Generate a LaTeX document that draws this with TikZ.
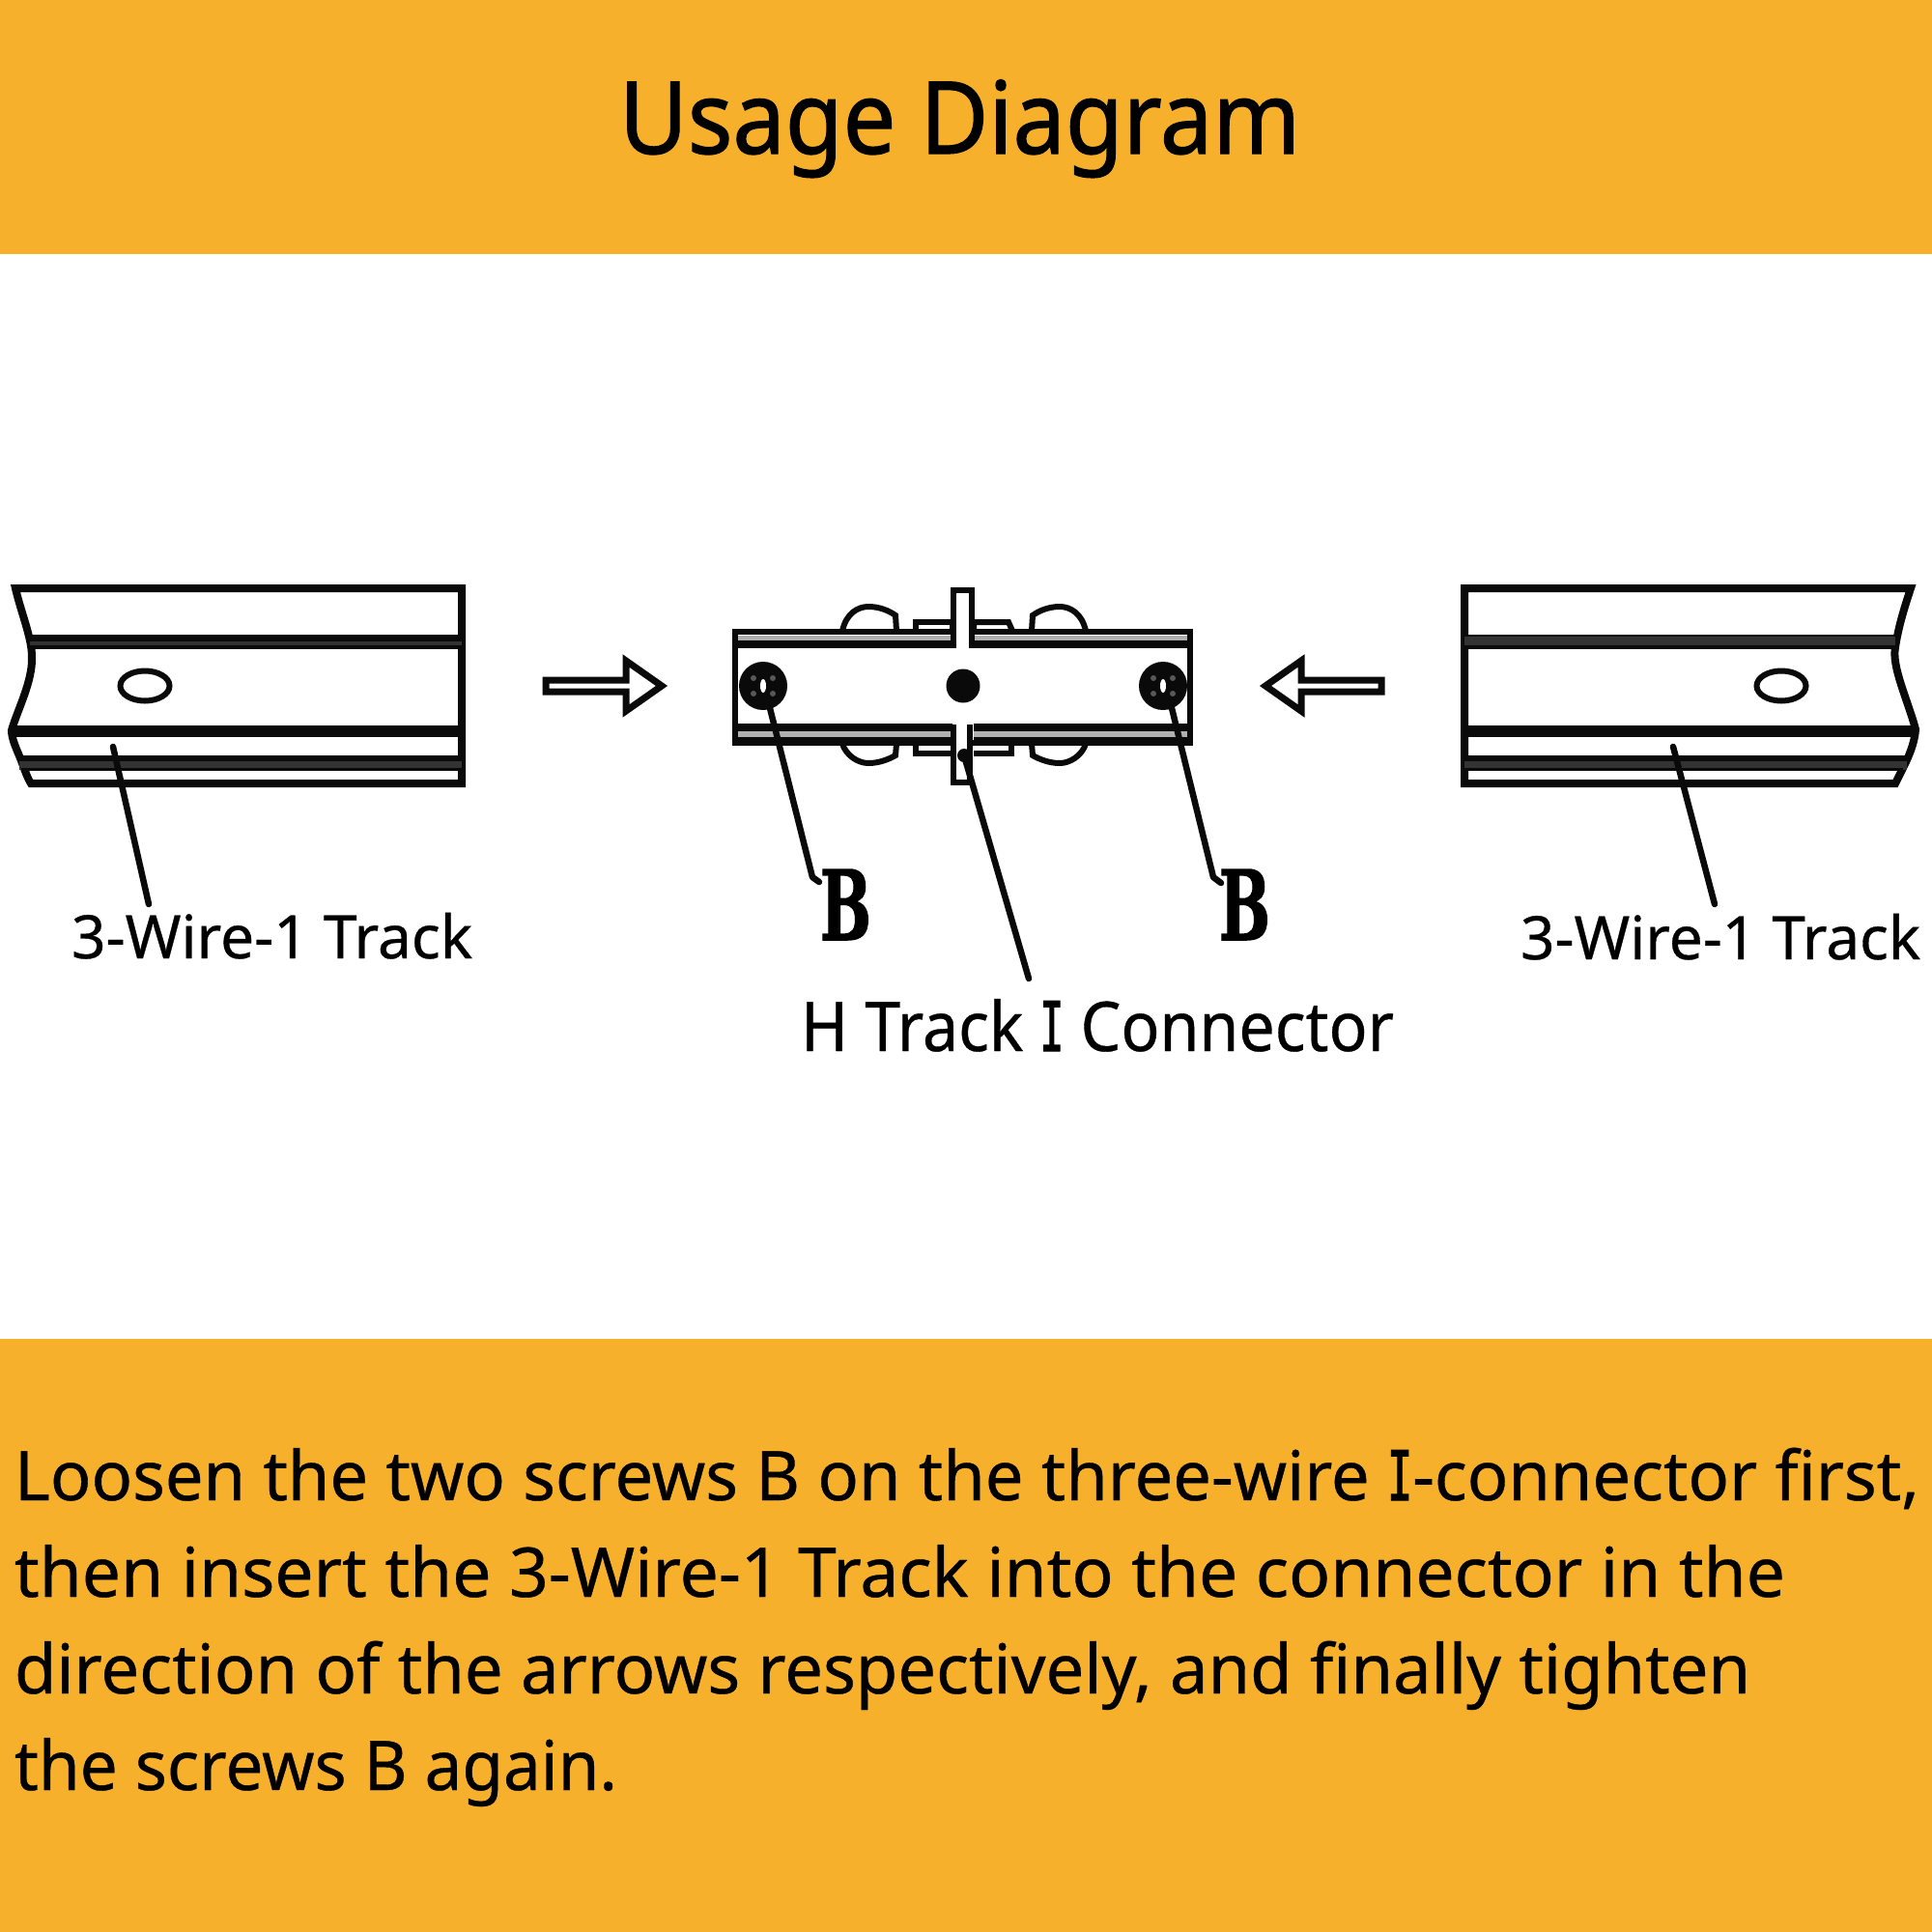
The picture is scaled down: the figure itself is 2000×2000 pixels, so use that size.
\documentclass[tikz,border=0pt]{standalone}
\usepackage{fontspec}
\usepackage{graphicx}
\usetikzlibrary{shapes.geometric}
\setmainfont[FakeBold=0.5]{Noto Sans}
\newfontfamily\titleface[FakeBold=1.2]{Noto Sans}
\newfontfamily\serifface[FakeBold=2]{DejaVu Sans Mono}
\newfontfamily\slabface[BoldFeatures={FakeBold=1.5}]{DejaVu Serif}
\newcommand{\fitw}[2]{\resizebox{#1pt}{\height}{#2}}
\newcommand{\serifI}{\scalebox{0.62}[1]{\serifface I}}
\definecolor{band}{HTML}{F7B02B}
\definecolor{ink}{HTML}{0A0A0A}
\definecolor{midgrey}{HTML}{333333}
\definecolor{lightgrey}{HTML}{B0B0B0}
\tikzset{
  txt/.style={anchor=base west,inner sep=0pt,outer sep=0pt,text=black},
  titletxt/.style={txt,font=\titleface\fontsize{104}{104}\selectfont},
  bodytxt/.style={txt,font=\fontsize{71}{71}\selectfont},
  lbl/.style={txt,font=\fontsize{62}{62}\selectfont},
  lblbig/.style={txt,font=\fontsize{71}{71}\selectfont},
  bee/.style={txt,font=\slabface\bfseries\fontsize{100}{100}\selectfont},
  edge/.style={draw=ink,line width=8pt,line join=miter},
  part/.style={draw=ink,line width=6pt,line join=miter},
  leader/.style={draw=ink,line width=6.5pt,line cap=round,line join=round},
  arrowshape/.style={draw=ink,line width=7pt,fill=white,line join=miter},
  hole/.style={draw=ink,line width=6pt,ellipse,minimum width=51pt,minimum height=31pt,inner sep=0pt},
  screw/.style={circle,fill=ink,minimum size=50pt,inner sep=0pt},
}
\begin{document}
\begin{tikzpicture}[x=1pt,y=-1pt]
\useasboundingbox (0,0) rectangle (2000,2000);
\fill[white] (0,0) rectangle (2000,2000);
\fill[band] (0,0) rectangle (2000,263);
\fill[band] (0,1386) rectangle (2000,2000);

\node[titletxt] (title) at (641,159) {\fitw{705}{Usage Diagram}};

% left track
\path[edge] (16,609) -- (478,609) -- (478,811) -- (32,811)
  .. controls (28,805) and (25,795) .. (21,785)
  .. controls (17,775) and (12,765) .. (12,756)
  .. controls (18,735) and (34,705) .. (33,680)
  .. controls (33,660) and (22,635) .. (16,609) -- cycle;
\fill[midgrey] (31,659) rectangle (478,671);
\fill[ink] (31,657) rectangle (478,664);
\fill[ink] (31,668) rectangle (478,672);
\fill[ink] (9,751) rectangle (482,763);
\fill[midgrey] (20,785) rectangle (478,797);
\fill[ink] (20,782) rectangle (478,788);
\fill[ink] (22,795) rectangle (478,798);
\node[hole] (holeL) at (150,710) {};
\coordinate (trackL) at (117,773);
\node[lbl] (labelL) at (74,992) {\fitw{415}{3-Wire-1 Track}};
\coordinate (labelLtip) at (154,936);
\draw[leader] (trackL) -- (labelLtip);

% arrow right
\path[arrowshape] (565,704) -- (648,704) -- (648,684) -- (685,710) -- (648,736) -- (648,716) -- (565,716) -- cycle;

% connector bumps
\path[part,fill=white] (872,653) .. controls (876,635) and (888,628) .. (899,628) .. controls (910,628) and (920,632) .. (927,637) -- (928,653);
\path[part,fill=white] (1124,653) .. controls (1120,635) and (1108,628) .. (1097,628) .. controls (1086,628) and (1076,632) .. (1069,637) -- (1068,653);
\path[part,fill=white] (872,770) .. controls (876,782) and (888,790) .. (899,790) .. controls (910,790) and (920,786) .. (927,782) -- (928,770);
\path[part,fill=white] (1124,770) .. controls (1120,782) and (1108,790) .. (1097,790) .. controls (1086,790) and (1076,786) .. (1069,782) -- (1068,770);
\path[part,fill=white] (948,653) -- (948,644) -- (986,644) -- (986,653);
\path[part,fill=white] (1008,653) -- (1008,644) -- (1044,644) -- (1048,653);
\path[part,fill=white] (948,770) -- (948,780) -- (986,780);
\path[part,fill=white] (1008,780) -- (1047,780) -- (1047,770);

% connector body
\path[part,fill=white] (761,654) rectangle (1232,769);
\fill[lightgrey] (764,658) rectangle (986,663);
\fill[lightgrey] (1008,658) rectangle (1229,663);
\fill[ink] (761,663) rectangle (986,671);
\fill[ink] (1008,663) rectangle (1232,671);
\fill[ink] (761,749) rectangle (986,757);
\fill[ink] (1008,749) rectangle (1232,757);
\fill[lightgrey] (764,757) rectangle (986,763);
\fill[lightgrey] (1008,757) rectangle (1229,763);
\fill[ink] (761,763) rectangle (986,771);
\fill[ink] (1008,763) rectangle (1232,771);
% centre tab
\fill[white] (990,648) rectangle (1004,672);
\fill[white] (990,745) rectangle (1003,775);
\path[part] (987,671) -- (987,611) -- (1006,611) -- (1006,671);
\path[part] (987,750) -- (987,810) -- (1004,810) -- (1004,750);
\node[circle,fill=ink,minimum size=35pt,inner sep=0pt] (centreDot) at (997,710) {};

% screws
\node[screw] (screwL) at (790,710) {};
\node[screw] (screwR) at (1204,710) {};
\foreach \sx in {790,1204}{
  \fill[white] (\sx,710) ellipse (3pt and 7pt);
  \foreach \dx/\dy in {-10/-8,10/-8,-10/8,10/8}
    \fill[lightgrey!50!black] (\sx+\dx,710+\dy) circle (3pt);
}

% connector labels and leaders
\node[bee] (beeL) at (849,973) {\resizebox{53pt}{73pt}{B}};
\node[bee] (beeR) at (1262,973) {\resizebox{53pt}{73pt}{B}};
\coordinate (beeLtip) at (841,908);
\coordinate (beeLend) at (848,913);
\coordinate (beeRtip) at (1256,908);
\coordinate (beeRend) at (1264,914);
\draw[leader] (screwL.center) ++(7,23) -- (beeLtip) -- (beeLend);
\draw[leader] (screwR.center) ++(9,23) -- (beeRtip) -- (beeRend);
\node[lblbig] (labelH) at (829,1088) {\fitw{614}{H Track \serifI{} Connector}};
\coordinate (connTab) at (998,782);
\coordinate (labelHtip) at (1065,1013);
\fill[ink] (connTab) circle (7pt);
\draw[leader] (connTab) -- (labelHtip);

% arrow left
\path[arrowshape] (1430,704) -- (1347,704) -- (1347,684) -- (1310,710) -- (1347,736) -- (1347,716) -- (1430,716) -- cycle;

% right track
\path[edge] (1516,609) -- (1978,609)
  .. controls (1971,630) and (1965,650) .. (1962,670)
  .. controls (1958,690) and (1975,725) .. (1983,755)
  .. controls (1982,770) and (1975,785) .. (1970,795)
  -- (1962,811) -- (1516,811) -- cycle;
\fill[ink] (1516,657) rectangle (1964,664);
\fill[midgrey] (1516,659) rectangle (1962,671);
\fill[ink] (1516,668) rectangle (1962,672);
\fill[ink] (1512,751) rectangle (1985,763);
\fill[midgrey] (1516,785) rectangle (1974,797);
\fill[ink] (1516,782) rectangle (1974,788);
\fill[ink] (1516,795) rectangle (1970,798);
\node[hole] (holeR) at (1844,710) {};
\coordinate (trackR) at (1732,773);
\node[lbl] (labelR) at (1574,993) {\fitw{414}{3-Wire-1 Track}};
\coordinate (labelRtip) at (1775,936);
\draw[leader] (trackR) -- (labelRtip);

% body text
\node[bodytxt] (line1) at (15,1553) {\fitw{1972}{Loosen the two screws B on the three-wire \serifI-connector first,}};
\node[bodytxt] (line2) at (15,1653) {\fitw{1833}{then insert the 3-Wire-1 Track into the connector in the}};
\node[bodytxt] (line3) at (15,1753) {\fitw{1797}{direction of the arrows respectively, and finally tighten}};
\node[bodytxt] (line4) at (15,1853) {\fitw{624}{the screws B again.}};
\end{tikzpicture}
\end{document}
